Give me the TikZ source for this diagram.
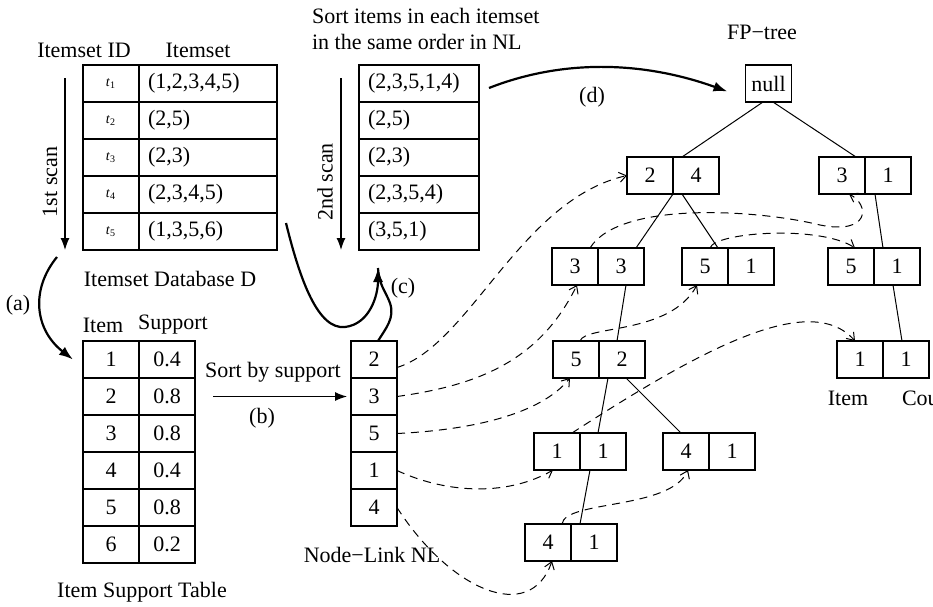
\documentclass[tikz,border=0pt]{standalone}
\usepackage{fontspec}
\setmainfont{Liberation Serif}
\usetikzlibrary{positioning,calc,arrows.meta}

\tikzset{
  cell/.style={draw, line width=0.6pt, minimum height=18.5pt, inner sep=0pt, outer sep=0pt},
  idcell/.style={cell, minimum width=28pt},
  setcell/.style={cell, text width=60pt, inner xsep=4.5pt, align=left},
  srtcell/.style={cell, text width=51pt, inner xsep=4.5pt, align=left},
  numcell/.style={cell, minimum width=28pt},
  fpcell/.style={cell, minimum width=23pt},
  treeedge/.style={line width=0.5pt},
  nodelink/.style={line width=0.5pt, dash pattern=on 4pt off 3pt, -{Straight Barb[length=3.5pt,width=5pt]}},
  scanarrow/.style={line width=0.6pt, -{Latex[length=6pt,width=4.5pt]}},
  steparrow/.style={line width=1.1pt, -{Latex[length=7pt,width=5pt]}},
}
\newcommand{\tlab}[1]{{\fontsize{7}{8}\selectfont\textit{t}\textsubscript{#1}}}

\begin{document}
\begin{tikzpicture}[x=0.5pt, y=-0.5pt, font=\fontsize{11}{13}\selectfont]
\clip (0,0) rectangle (933,606);

% itemset database
\node (hdrid) at (84,50) {Itemset ID};
\node (hdrset) at (198,50) {Itemset};
\node[idcell] (id1) at (111,83.5) {\tlab{1}};
\node[idcell, below=0pt of id1] (id2) {\tlab{2}};
\node[idcell, below=0pt of id2] (id3) {\tlab{3}};
\node[idcell, below=0pt of id3] (id4) {\tlab{4}};
\node[idcell, below=0pt of id4] (id5) {\tlab{5}};
\node[setcell, right=0pt of id1] (set1) {(1,2,3,4,5)};
\node[setcell, right=0pt of id2] (set2) {(2,5)};
\node[setcell, right=0pt of id3] (set3) {(2,3)};
\node[setcell, right=0pt of id4] (set4) {(2,3,4,5)};
\node[setcell, right=0pt of id5] (set5) {(1,3,5,6)};
\node[rotate=90] (scan1) at (50,182) {1st scan};
\draw[scanarrow] ([xshift=-9pt,yshift=-6.5pt]id1.north west) -- ([xshift=-9pt]id5.south west);
\node (dblabel) at (170,279) {Itemset Database D};

% item support table
\node (hdritem) at (103,325) {Item};
\node (hdrsup) at (173,325) {Support};
\node[numcell] (it1) at (111,359.5) {1};
\node[numcell, below=0pt of it1] (it2) {2};
\node[numcell, below=0pt of it2] (it3) {3};
\node[numcell, below=0pt of it3] (it4) {4};
\node[numcell, below=0pt of it4] (it5) {5};
\node[numcell, below=0pt of it5] (it6) {6};
\node[numcell, right=0pt of it1] (sup1) {0.4};
\node[numcell, right=0pt of it2] (sup2) {0.8};
\node[numcell, right=0pt of it3] (sup3) {0.8};
\node[numcell, right=0pt of it4] (sup4) {0.4};
\node[numcell, right=0pt of it5] (sup5) {0.8};
\node[numcell, right=0pt of it6] (sup6) {0.2};
\node (suplabel) at (142,592) {Item Support Table};

% step (a)
\coordinate (astart) at (57,257);
\node (alab) at (18,305) {(a)};
\draw[steparrow] (astart) .. controls (30,290) and (35,330) .. ([xshift=-5pt]it1.west);

% node-link
\node[fpcell] (nl2) at (374,359.5) {2};
\node[fpcell, below=0pt of nl2] (nl3) {3};
\node[fpcell, below=0pt of nl3] (nl5) {5};
\node[fpcell, below=0pt of nl5] (nl1) {1};
\node[fpcell, below=0pt of nl1] (nl4) {4};
\node (nllabel) at (372,555) {Node−Link NL};

% step (b)
\node (sortlab) at (273,372) {Sort by support};
\draw[scanarrow, shorten <=9pt, shorten >=2pt] (sup2.east) -- (nl3.west);
\node (blab) at (262,418) {(b)};

% sorted itemsets
\node[anchor=west, align=left] (srttitle) at (305,29) {Sort items in each itemset\\in the same order in NL};
\node[srtcell] (srt1) at (419,83.5) {(2,3,5,1,4)};
\node[srtcell, below=0pt of srt1] (srt2) {(2,5)};
\node[srtcell, below=0pt of srt2] (srt3) {(2,3)};
\node[srtcell, below=0pt of srt3] (srt4) {(2,3,5,4)};
\node[srtcell, below=0pt of srt4] (srt5) {(3,5,1)};
\node[rotate=90] (scan2) at (325,182) {2nd scan};
\draw[scanarrow] ([xshift=-9pt,yshift=-6.5pt]srt1.north west) -- ([xshift=-9pt]srt5.south west);

% step (c)
\coordinate (ctip) at (378,268);
\draw[line width=1.1pt] ([xshift=2pt]nl2.north) .. controls (386,328) and (395,318) .. (390,303) .. controls (385,290) and (379,285) .. (ctip);
\draw[steparrow] ([xshift=4.5pt,yshift=4.25pt]set5.east) .. controls (300,280) and (318,330) .. (345,327) .. controls (370,324) and (378,295) .. (ctip);
\node (clab) at (403,288) {(c)};

% fp-tree
\node (fptitle) at (762,32) {FP−tree};
\node[fpcell] (root) at (768.5,83.5) {null};
\node[fpcell] (n24) at (650,175.5) {2};
\node[fpcell, right=0pt of n24] (n24c) {4};
\node[fpcell] (n31) at (842,175.5) {3};
\node[fpcell, right=0pt of n31] (n31c) {1};
\node[fpcell] (n33) at (575,266.5) {3};
\node[fpcell, right=0pt of n33] (n33c) {3};
\node[fpcell] (n51a) at (705,266.5) {5};
\node[fpcell, right=0pt of n51a] (n51ac) {1};
\node[fpcell] (n51b) at (851,266.5) {5};
\node[fpcell, right=0pt of n51b] (n51bc) {1};
\node[fpcell] (n52) at (576,359.5) {5};
\node[fpcell, right=0pt of n52] (n52c) {2};
\node[fpcell] (n11b) at (860,359.5) {1};
\node[fpcell, right=0pt of n11b] (n11bc) {1};
\node[fpcell] (n11a) at (557,451.5) {1};
\node[fpcell, right=0pt of n11a] (n11ac) {1};
\node[fpcell] (n41a) at (686,451.5) {4};
\node[fpcell, right=0pt of n41a] (n41ac) {1};
\node[fpcell] (n41b) at (548,542.5) {4};
\node[fpcell, right=0pt of n41b] (n41bc) {1};
\node (itemlab) at (848,398) {Item};
\node[anchor=west] (countlab) at (895,398) {Count};

% step (d)
\draw[steparrow] ([xshift=5pt,yshift=-2.25pt]srt1.east) .. controls (560,60) and (640,60) .. ([xshift=-9pt,yshift=-4pt]root.west);
\node (dlab) at (592,97) {(d)};

% tree edges
\draw[treeedge] ([xshift=-2.75pt]root.south) -- ([xshift=-7pt]n24c.north);
\draw[treeedge] ([xshift=2.25pt]root.south) -- ([xshift=7pt]n31.north);
\draw[treeedge] (n24.south east) -- ([xshift=7.5pt]n33c.north);
\draw[treeedge] ([xshift=-7pt]n24c.south) -- ([xshift=6.5pt]n51a.north);
\draw[treeedge] ([xshift=-6.5pt]n31c.south) -- ([xshift=-7pt]n51bc.north);
\draw[treeedge] ([xshift=2.5pt]n33c.south) -- ([xshift=-2.5pt]n52c.north);
\draw[treeedge] ([xshift=-2pt]n51bc.south) -- ([xshift=-2pt]n11bc.north);
\draw[treeedge] ([xshift=-7pt]n52c.south) -- ([xshift=-2.5pt]n11ac.north);
\draw[treeedge] ([xshift=2pt]n52c.south) -- ([xshift=-2.5pt]n41a.north);
\draw[treeedge] ([xshift=-6.5pt]n11ac.south) -- ([xshift=-7pt]n41bc.north);

% node-links from NL
\draw[nodelink] ([yshift=-4pt]nl2.east) .. controls (470,345) and (520,200) .. (n24.west);
\draw[nodelink] (nl3.east) .. controls (480,385) and (540,360) .. ([xshift=1pt]n33.south);
\draw[nodelink] (nl5.east) .. controls (470,430) and (540,415) .. ([xshift=-3pt]n52.south);
\draw[nodelink] (nl1.east) .. controls (450,495) and (510,495) .. ([xshift=-2pt]n11a.south);
\draw[nodelink] (nl4.east) .. controls (450,590) and (530,625) .. ([xshift=2pt]n41b.south);

% node-links inside the tree
\draw[nodelink] ([xshift=7.5pt]n33.north) .. controls (620,200) and (760,210) .. (820,225) .. controls (870,235) and (870,205) .. ([xshift=3.5pt]n31.south);
\draw[nodelink] ([xshift=2.5pt]n51a.north) .. controls (715,232) and (820,225) .. ([xshift=2pt]n51b.north);
\draw[nodelink] ([xshift=2pt]n52.north) .. controls (585,325) and (670,335) .. ([xshift=-4pt]n51a.south);
\draw[nodelink] ([xshift=7.5pt]n11a.north) .. controls (700,350) and (810,290) .. ([xshift=-2.5pt]n11b.north);
\draw[nodelink] ([xshift=7pt]n41b.north) .. controls (565,500) and (670,510) .. ([xshift=1pt]n41a.south);
\end{tikzpicture}
\end{document}
